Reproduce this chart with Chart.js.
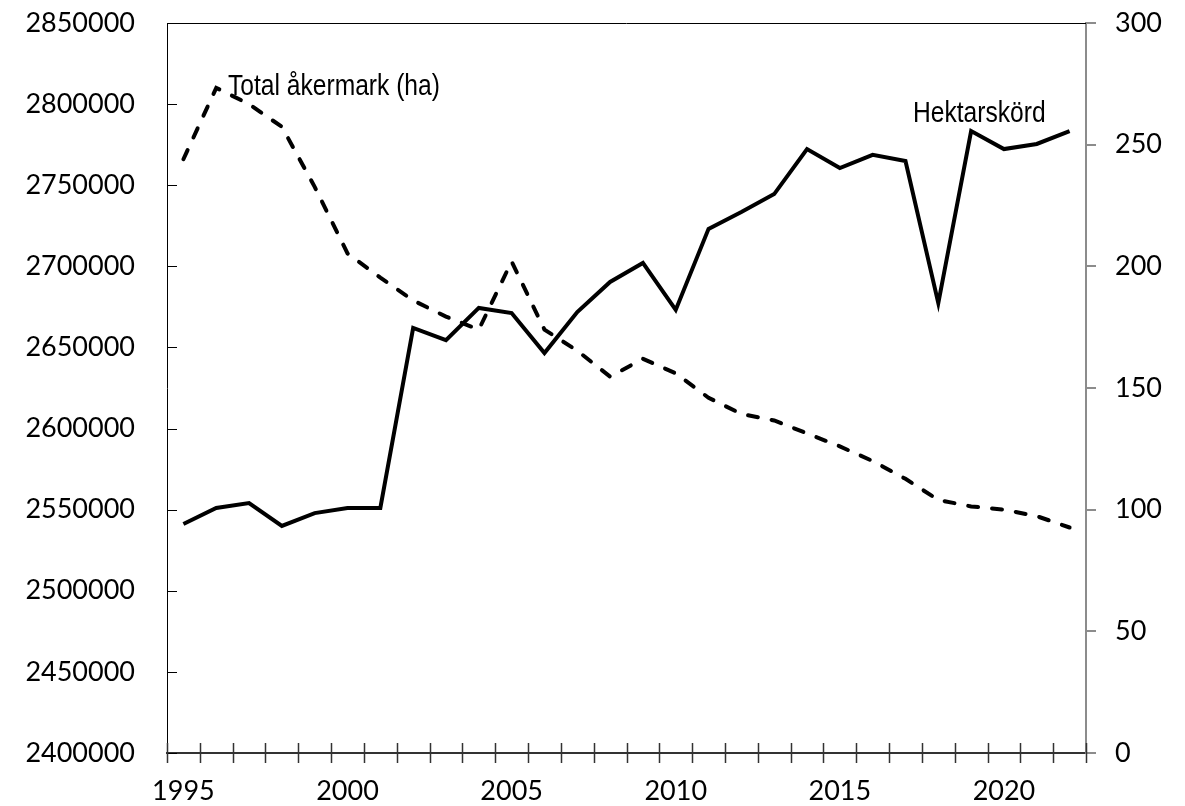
<!DOCTYPE html>
<html>
<head>
<meta charset="utf-8">
<script src="https://cdn.jsdelivr.net/npm/chart.js@4/dist/chart.umd.min.js"></script>
<style>
  html, body { margin: 0; padding: 0; background: #fff; }
  #wrap { width: 1185px; height: 806px; }
</style>
</head>
<body>
<div id="wrap"><canvas id="chart"></canvas></div>
<script>
// år
const years = [1995, 1996, 1997, 1998, 1999, 2000, 2001, 2002, 2003, 2004, 2005, 2006, 2007, 2008,
               2009, 2010, 2011, 2012, 2013, 2014, 2015, 2016, 2017, 2018, 2019, 2020, 2021, 2022];
// Total åkermark (ha), vänster axel
const akermark = [2766000, 2810000, 2800000, 2786000, 2749000, 2708000, 2693000, 2679000, 2669000, 2661000,
                  2703000, 2661000, 2648000, 2632000, 2643000, 2634000, 2619000, 2609000, 2605000, 2597000,
                  2589000, 2580000, 2569000, 2556000, 2552000, 2550000, 2546000, 2539000];
// Hektarskörd, höger axel
const hektarskord = [94.1, 100.7, 102.7, 93.3, 98.6, 100.7, 100.7, 174.7, 169.7, 182.9,
                     180.8, 164.4, 181.2, 193.6, 201.4, 182.1, 215.4, 222.3, 229.7, 248.2,
                     240.4, 245.8, 243.3, 184.9, 255.6, 248.2, 250.3, 255.6];
const labelAkermark = "Total åkermark (ha)";
const labelHektar = "Hektarskörd";

const tickFont = { family: "Lato", size: 27 };
const noteFont = '30px "Liberation Sans", sans-serif';

// tickmarks inåt på vänster axel, korsande på x-axeln, ram upptill, etiketter
const extras = {
  id: 'extras',
  afterDraw(chart) {
    const { ctx, chartArea, scales } = chart;
    const x = scales.x, y = scales.y;
    ctx.save();
    ctx.strokeStyle = '#000';
    ctx.lineWidth = 1;
    ctx.beginPath();
    ctx.moveTo(chartArea.left, chartArea.top + 0.5);
    ctx.lineTo(chartArea.right, chartArea.top + 0.5);
    y.ticks.forEach((t, i) => {
      const py = Math.round(y.getPixelForTick(i)) + 0.5;
      ctx.moveTo(chartArea.left, py);
      ctx.lineTo(chartArea.left + 10, py);
    });
    ctx.stroke();

    ctx.strokeStyle = '#333';
    ctx.lineWidth = 1.5;
    ctx.beginPath();
    for (let i = 0; i <= years.length; i++) {
      const px = Math.round(x.getPixelForValue(i - 0.5)) + 0.5;
      ctx.moveTo(px, chartArea.bottom - 10);
      ctx.lineTo(px, chartArea.bottom + 10);
    }
    ctx.stroke();

    // smal text (condensed)
    ctx.fillStyle = '#000';
    ctx.font = noteFont;
    ctx.textBaseline = 'alphabetic';
    ctx.textAlign = 'left';
    ctx.save();
    ctx.translate(228, 95);
    ctx.scale(0.82, 1);
    ctx.fillText(labelAkermark, 0, 0);
    ctx.restore();
    ctx.save();
    ctx.translate(913, 122);
    ctx.scale(0.82, 1);
    ctx.fillText(labelHektar, 0, 0);
    ctx.restore();
    ctx.restore();
  }
};

function noPad(s) {
  s.paddingTop = 0;
  s.paddingBottom = 0;
  s.paddingLeft = 0;
  s.paddingRight = 0;
}

new Chart(document.getElementById('chart'), {
  type: 'line',
  data: {
    labels: years,
    datasets: [
      {
        label: labelAkermark,
        data: akermark,
        yAxisID: 'y',
        borderColor: '#000',
        borderWidth: 4,
        borderDash: [10, 14],
        borderCapStyle: 'round',
        pointRadius: 0,
        tension: 0,
        fill: false
      },
      {
        label: labelHektar,
        data: hektarskord,
        yAxisID: 'y1',
        borderColor: '#000',
        borderWidth: 4,
        pointRadius: 0,
        tension: 0,
        fill: false
      }
    ]
  },
  options: {
    responsive: true,
    maintainAspectRatio: false,
    animation: false,
    layout: { padding: { top: 23, left: 0, right: 0, bottom: 0 } },
    plugins: {
      legend: { display: false },
      tooltip: { enabled: false }
    },
    scales: {
      x: {
        type: 'category',
        offset: true,
        grid: { display: false },
        border: { display: true, color: '#333', width: 2 },
        ticks: {
          color: '#000',
          font: tickFont,
          padding: 14,
          autoSkip: false,
          maxRotation: 0,
          callback: function (v, i) { return years[i] % 5 === 0 ? String(years[i]) : ''; }
        },
        afterFit: s => { s.height = 53; noPad(s); }
      },
      y: {
        position: 'left',
        min: 2400000,
        max: 2850000,
        grid: { display: true, drawOnChartArea: false, drawTicks: false },
        border: { display: true, color: '#000', width: 1 },
        ticks: { stepSize: 50000, color: '#000', font: tickFont, padding: 32,
                 callback: v => String(v) },
        afterFit: s => { s.width = 167; noPad(s); }
      },
      y1: {
        position: 'right',
        min: 0,
        max: 300,
        grid: { display: true, drawOnChartArea: false, drawTicks: true, tickLength: 10, color: '#8c8c8c', lineWidth: 2 },
        border: { display: true, color: '#8c8c8c', width: 2 },
        ticks: { stepSize: 50, color: '#000', font: tickFont, padding: 19,
                 callback: v => String(v) },
        afterFit: s => { s.width = 99; noPad(s); }
      }
    }
  },
  plugins: [extras]
});
</script>
</body>
</html>
